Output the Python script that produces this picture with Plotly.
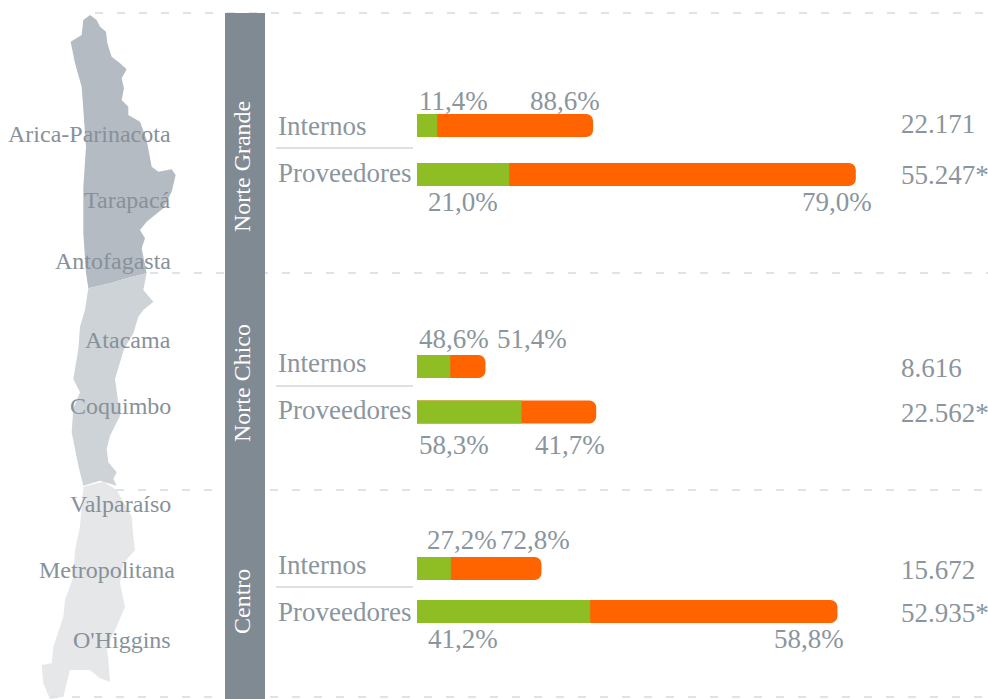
import plotly.graph_objects as go

W, H = 988, 699

# ---- data ----
row_names = ["Internos", "Proveedores"] * 3
totals = [22171, 55247, 8616, 22562, 15672, 52935]
total_labels = ["22.171", "55.247*", "8.616", "22.562*", "15.672", "52.935*"]
green_pct = [11.4, 21.0, 48.6, 58.3, 27.2, 41.2]
orange_pct = [88.6, 79.0, 51.4, 41.7, 72.8, 58.8]
zones = ["Norte Grande", "Norte Chico", "Centro"]
regions = ["Arica-Parinacota", "Tarapacá", "Antofagasta", "Atacama", "Coquimbo",
           "Valparaíso", "Metropolitana", "O'Higgins"]

# ---- layout constants (pixels) ----
GREEN, ORANGE = "#8fbe24", "#ff6400"
TXT, TXT2, BAND, RULE = "#8b959d", "#87919a", "#7f8a93", "#e0e3e6"
FONT = "Liberation Sans Narrow"
UNITS_PER_PX = 125.9
X0 = 417
row_y = [125.5, 174.5, 366.5, 412, 568.5, 611.5]
label_y = [126, 173, 363, 410, 565, 612]
total_y = [124, 175, 368, 413, 570, 613]
green_lab = [(417, 101), (426, 202), (417, 339), (417, 445), (425, 540), (426, 639)]
orange_lab = [(528, 101), (800, 202), (495, 339), (533, 445), (498, 540), (772, 639)]
region_pos = [(173, 134), (173, 200), (173, 261), (173, 340), (173, 406), (173, 504), (177, 570), (173, 640)]
zone_pos = [(242, 167), (242, 383), (242, 602)]

def px(x):
    return x / W

def py(y):
    return 1 - y / H

def path(pts, y_off=0):
    p = [(px(x / 3), py((y + y_off) / 3)) for x, y in pts]
    return "M " + " L ".join(f"{a:.5f},{b:.5f}" for a, b in p) + " Z"

grande = [(270,45),(290,60),(300,80),(318,95),(322,130),(335,170),(360,190),(380,208),(365,235),
          (372,265),(365,300),(385,320),(385,345),(420,365),(440,420),(455,500),(475,515),(515,508),
          (527,525),(515,575),(490,625),(440,665),(420,690),(435,715),(425,745),(440,820),(380,835),
          (330,850),(265,865),(258,820),(250,700),(250,560),(258,440),(250,330),(245,260),(225,190),
          (212,125),(245,105),(250,60)]
chico = [(440,820),(430,870),(460,905),(430,930),(415,950),(400,1000),(372,1047),(345,1137),(360,1247),
         (330,1307),(320,1347),(325,1387),(350,1417),(340,1437),(350,1457),(300,1442),(250,1457),
         (235,1397),(215,1297),(220,1227),(240,1177),(220,1137),(235,1047),(240,980),(255,930),(265,865),
         (330,850),(380,835)]
centro = [(250,410),(310,395),(350,420),(395,500),(400,560),(405,600),(370,640),(360,700),(375,770),
          (350,830),(320,890),(325,930),(330,995),(300,985),(270,960),(210,960),(200,1000),(190,1040),
          (150,1047),(130,1000),(125,945),(155,940),(160,890),(190,800),(195,750),(220,680),(225,600),
          (240,530),(245,470)]

fig = go.Figure()
# full bar in orange, green share on top of it
fig.add_bar(y=row_y, x=totals, orientation="h", width=23, marker_color=ORANGE,
            marker_line_width=0, hoverinfo="skip")
fig.add_bar(y=row_y, x=[t * g / 100 for t, g in zip(totals, green_pct)], orientation="h", width=23,
            marker_color=GREEN, marker_line_width=0, hoverinfo="skip")

shapes = []
for pts, col, off in [(grande, "#b5bbc3", 0), (chico, "#cdd3d6", 0), (centro, "#e5e7e9", 1050)]:
    shapes.append(dict(type="path", xref="paper", yref="paper", path=path(pts, off),
                       fillcolor=col, line_width=0, layer="below"))
for x0, y in [(95, 13), (150, 273), (116, 490), (50, 697)]:
    shapes.append(dict(type="line", xref="paper", yref="paper", x0=px(x0), x1=1, y0=py(y), y1=py(y),
                       line=dict(color=RULE, width=2, dash="8px,14px"), layer="below"))
shapes.append(dict(type="rect", xref="paper", yref="paper", x0=px(225), x1=px(265), y0=py(13), y1=0,
                   fillcolor=BAND, line_width=0, layer="below"))
for y in [148, 386, 587]:
    shapes.append(dict(type="line", xref="paper", yref="paper", x0=px(276), x1=px(413), y0=py(y), y1=py(y),
                       line=dict(color="#dde1e4", width=2), layer="below"))

ann = []

def text(x, y, s, size=27, color=TXT, anchor="left", angle=0):
    ann.append(dict(xref="paper", yref="paper", x=px(x), y=py(y), text=s, showarrow=False,
                    xanchor=anchor, yanchor="middle", textangle=angle,
                    font=dict(family=FONT, size=size, color=color)))

def pct(v):
    return f"{v:.1f}%".replace(".", ",")

for i in range(6):
    text(276, label_y[i], row_names[i])
    text(899, total_y[i], total_labels[i])
    text(green_lab[i][0], green_lab[i][1], pct(green_pct[i]))
    text(orange_lab[i][0], orange_lab[i][1], pct(orange_pct[i]))
for name, (x, y) in zip(regions, region_pos):
    text(x, y, name, size=24, color=TXT2, anchor="right")
for name, (x, y) in zip(zones, zone_pos):
    text(x, y, name, size=24, color="white", anchor="center", angle=-90)

fig.update_layout(
    width=W, height=H, margin=dict(l=0, r=0, t=0, b=0, pad=0), showlegend=False,
    paper_bgcolor="white", plot_bgcolor="rgba(0,0,0,0)",
    barmode="overlay", barcornerradius=7,
    xaxis=dict(range=[-X0 * UNITS_PER_PX, (W - X0) * UNITS_PER_PX], visible=False, fixedrange=True),
    yaxis=dict(range=[H, 0], visible=False, fixedrange=True),
    shapes=shapes, annotations=ann,
)
fig.write_html("out.html", config={"displayModeBar": False},
               post_script="document.body.style.margin='0';")
